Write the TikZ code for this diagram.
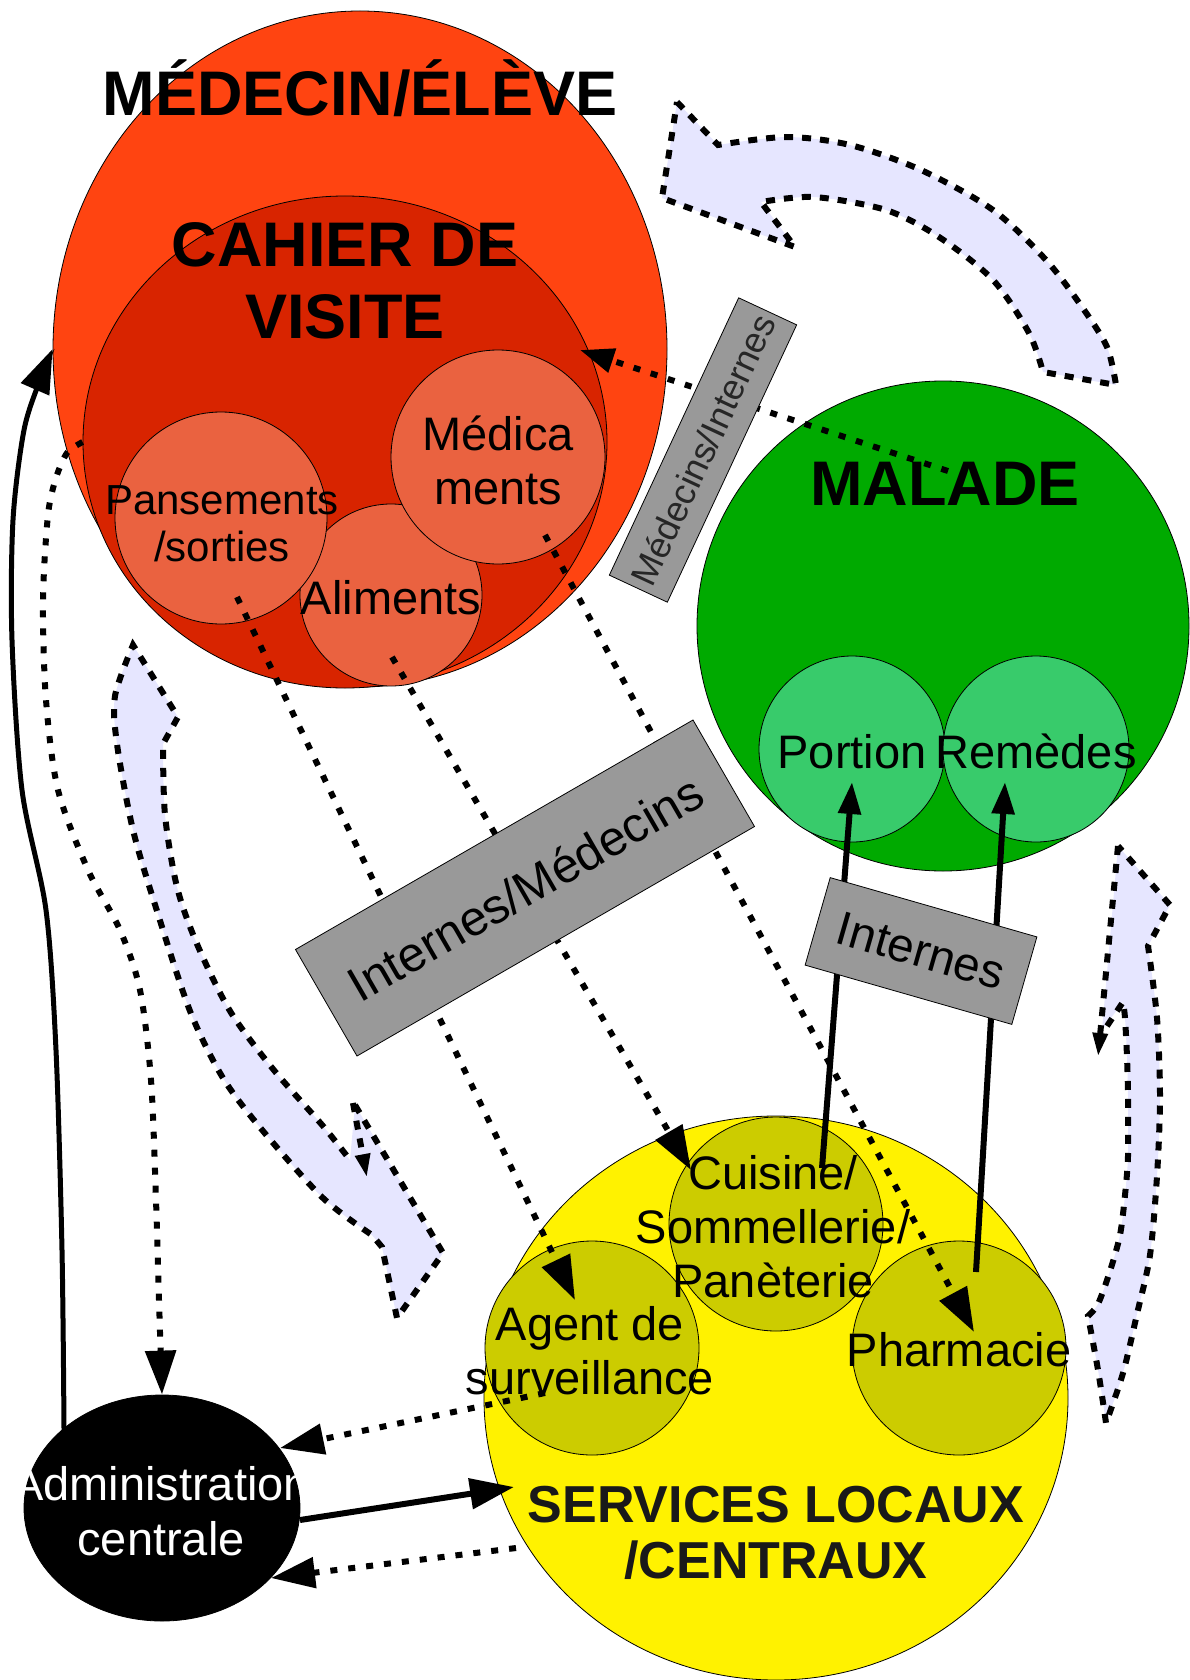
\documentclass[tikz,border=0pt]{standalone}
\usepackage{fontspec}
\setmainfont{Liberation Sans}
\usetikzlibrary{arrows.meta,shapes.geometric}
\definecolor{medred}{HTML}{FF4411}
\definecolor{cahier}{HTML}{D82400}
\definecolor{salmon}{HTML}{EA6240}
\definecolor{malgreen}{HTML}{00AA00}
\definecolor{lgreen}{HTML}{38CB6B}
\definecolor{olive}{HTML}{CCCC00}
\definecolor{lav}{HTML}{E6E6FF}
\definecolor{boxgray}{HTML}{999999}
\begin{document}
\begin{tikzpicture}[x=0.5pt,y=-0.5pt,
 blob/.style={ellipse, draw=black, line width=0.4pt, inner sep=0pt},
 lbl/.style={anchor=base, inner sep=0pt, font=\fontsize{23.5pt}{27pt}\selectfont},
 title/.style={anchor=base, inner sep=0pt, font=\bfseries\fontsize{31.5pt}{36pt}\selectfont},
 svc/.style={anchor=base, inner sep=0pt, font=\bfseries\fontsize{26pt}{30pt}\selectfont, text=black!90},
 dotline/.style={line width=3pt, dash pattern=on 3.5pt off 5.5pt},
 dotarrow/.style={dotline, -{Triangle[length=22pt,width=15pt]}},
 solidarrow/.style={line width=3pt, -{Triangle[length=22pt,width=15pt]}},
 bigoutline/.style={line width=3pt, dash pattern=on 4.5pt off 4.5pt},
 smalltip/.style={-{Triangle[length=12pt,width=7pt]}},
 graybox/.style={draw=black, line width=0.4pt, fill=boxgray, inner sep=0pt}
]
\path[use as bounding box] (0,0) rectangle (1189,1680);

% ---------- big lavender arrows ----------
% top right
\fill[lav] (677,102) -- (718,145) -- plot[smooth] coordinates {(718,145) (786,137) (850,145) (921,170) (993,210) (1046,260) (1082,307) (1107,347) (1116,385)} -- (1043,372) -- plot[smooth] coordinates {(1043,372) (1029,333) (993,280) (939,237) (886,210) (814,197) (761,202)} -- (795,247) -- (662,198) -- cycle;
\draw[bigoutline] (677,102) -- (718,145) -- plot[smooth] coordinates {(718,145) (786,137) (850,145) (921,170) (993,210) (1046,260) (1082,307) (1107,347) (1116,385)} -- (1043,372) -- plot[smooth] coordinates {(1043,372) (1029,333) (993,280) (939,237) (886,210) (814,197) (761,202)} -- (795,247) -- (662,198) -- cycle;

% left
\fill[lav] (133,645) -- (178,717) -- (163,744) -- plot[smooth] coordinates {(163,744) (165,815) (177,887) (197,944) (230,1011) (273,1069) (323,1126) (350,1160)} -- (355,1105) -- (443,1253) -- (397,1318) -- (382,1247) -- (372,1235) -- plot[smooth] coordinates {(372,1235) (323,1198) (263,1131) (223,1078) (190,1011) (157,911) (133,830) (117,744) (115,696) (133,645)} -- cycle;
\draw[bigoutline] (355,1105) -- (443,1253) -- (397,1318) -- (382,1247) -- (372,1235) -- plot[smooth] coordinates {(372,1235) (323,1198) (263,1131) (223,1078) (190,1011) (157,911) (133,830) (117,744) (115,696) (133,645)} -- (178,717) -- (163,744) -- plot[smooth] coordinates {(163,744) (165,815) (177,887) (197,944) (230,1011) (273,1069) (323,1126) (350,1160)};
\draw[bigoutline, smalltip] (353,1103) -- (367,1178);

% right
\fill[lav] (1118,846) -- (1170,905) -- (1148,946) -- plot[smooth] coordinates {(1148,946) (1157,1018) (1160,1097) (1157,1176) (1150,1255) (1137,1314) (1123,1373) (1106,1423)} -- plot[smooth] coordinates {(1106,1423) (1098,1370) (1088,1316)} -- plot[smooth] coordinates {(1088,1316) (1098,1304) (1110,1271) (1120,1235) (1125,1195) (1128,1156) (1128,1097) (1127,1057) (1125,1018) (1123,1002)} -- (1102,1030) -- cycle;
\draw[bigoutline] (1107,1026) -- (1123,1002) -- plot[smooth] coordinates {(1123,1002) (1125,1018) (1127,1057) (1128,1097) (1128,1156) (1125,1195) (1120,1235) (1110,1271) (1098,1304) (1088,1316)} -- plot[smooth] coordinates {(1088,1316) (1098,1370) (1106,1423)} -- plot[smooth] coordinates {(1106,1423) (1123,1373) (1137,1314) (1150,1255) (1157,1176) (1160,1097) (1157,1018) (1148,946)} -- (1170,905) -- (1118,846);
\draw[bigoutline, smalltip] (1118,846) -- (1098,1057);

% ---------- circles ----------
\node[blob, fill=medred, minimum width=307pt, minimum height=338pt] (medecin) at (360,349) {};
\node[blob, fill=cahier, minimum width=262pt, minimum height=246pt] (cahier) at (345,442) {};
\node[blob, fill=salmon, minimum width=91pt, minimum height=91pt] (alim) at (391,595) {};
\node[blob, fill=salmon, minimum width=106pt, minimum height=106pt] (pans) at (221,518) {};
\node[blob, fill=salmon, minimum width=107pt, minimum height=107pt] (medic) at (498,457) {};

\node[blob, fill=malgreen, minimum width=246pt, minimum height=245pt] (malade) at (943,626) {};
\node[blob, fill=lgreen, minimum width=93pt, minimum height=93pt] (portion) at (852,749) {};
\node[blob, fill=lgreen, minimum width=93pt, minimum height=93pt] (remedes) at (1036,749) {};

\node[blob, fill=yellow, minimum width=292pt, minimum height=282pt] (services) at (776,1398) {};
\node[blob, fill=olive, minimum width=107pt, minimum height=107pt] (agent) at (592,1348) {};
\node[blob, fill=olive, minimum width=107pt, minimum height=107pt] (pharma) at (959,1348) {};
\node[blob, fill=olive, minimum width=107pt, minimum height=107pt] (cuisine) at (776,1224) {};

\node[blob, fill=black, minimum width=138pt, minimum height=113pt] (admin) at (162,1508) {};

% ---------- texts ----------
\node[title] (tmed) at (360,116) {MÉDECIN/ÉLÈVE};
\node[title] (tcah1) at (345,266) {CAHIER DE};
\node[title] (tcah2) at (345,338) {VISITE};
\node[title] (tmal) at (945,505) {MALADE};
\node[lbl, font=\fontsize{21pt}{24pt}\selectfont] (tpan1) at (222,514) {Pansements};
\node[lbl, font=\fontsize{21pt}{24pt}\selectfont] (tpan2) at (222,561) {/sorties};
\node[lbl] (talim) at (391,614) {Aliments};
\node[lbl] (tmedi1) at (498,450) {Médica};
\node[lbl] (tmedi2) at (498,504) {ments};
\node[lbl] (tport) at (852,768) {Portion};
\node[lbl] (trem) at (1036,768) {Remèdes};
\node[lbl] (tcui1) at (773,1189) {Cuisine/};
\node[lbl] (tcui2) at (773,1243) {Sommellerie/};
\node[lbl] (tcui3) at (773,1297) {Panèterie};
\node[lbl] (tag1) at (590,1340) {Agent de};
\node[lbl] (tag2) at (590,1394) {surveillance};
\node[lbl] (tpha) at (959,1366) {Pharmacie};
\node[svc] (tsv1) at (776,1522) {SERVICES LOCAUX};
\node[svc] (tsv2) at (776,1578) {/CENTRAUX};
\node[lbl, text=white] (tad1) at (161,1500) {Administration};
\node[lbl, text=white] (tad2) at (161,1555) {centrale};

% ---------- connector end points ----------
\coordinate (pansout) at (237,597);
\coordinate (agentin) at (575,1300);
\coordinate (alimout) at (392,657);
\coordinate (cuisin) at (691,1170);
\coordinate (medout) at (545,535);
\coordinate (pharin) at (974,1332);
\coordinate (malout) at (948,471);
\coordinate (cahin) at (580,350);
\coordinate (agentout) at (545,1393);
\coordinate (adminA) at (280,1448);
\coordinate (servout) at (516,1548);
\coordinate (adminC) at (271,1578);
\coordinate (adminout) at (300,1520);
\coordinate (servin) at (514,1487);
\coordinate (cuisout) at (822,1168);
\coordinate (portin) at (852,782);
\coordinate (pharout) at (976,1272);
\coordinate (remin) at (1005,782);

% ---------- connectors ----------
\draw[dotarrow] (pansout) -- (agentin);
\draw[dotarrow] (alimout) -- (cuisin);
\draw[dotarrow] (medout) -- (pharin);
\draw[dotline, -{Triangle[length=17pt,width=12pt]}] (malout) -- (cahin);
\draw[dotarrow] (agentout) -- (adminA);
\draw[dotarrow] (servout) -- (adminC);
\draw[solidarrow] (adminout) -- (servin);
\draw[line width=3pt, -{Triangle[length=16pt,width=11pt]}] (cuisout) -- (portin);
\draw[line width=3pt, -{Triangle[length=16pt,width=11pt]}] (pharout) -- (remin);
\draw[line width=2.5pt, -{Triangle[length=22pt,width=15pt]}] (admin.north west) -- plot[smooth] coordinates {(64,1428) (62,1250) (56,1050) (46,910) (22,790) (12,640) (13,520) (24,430) (40,380) (medecin.west)};
\draw[dotline, -{Triangle[length=22pt,width=15pt]}] (cahier.west) -- plot[smooth] coordinates {(cahier.west) (67,453) (56,478) (48,515) (43,600) (46,700) (58,790) (88,870) (120,930) (140,990) (151,1080) (156,1200) (159,1300) (admin.north)};

% ---------- gray label boxes ----------
\node[graybox, minimum width=153pt, minimum height=32pt, rotate=65, text=black!85, font=\fontsize{18pt}{20pt}\selectfont] (box1) at (703,450) {Médecins/Internes};
\node[graybox, minimum width=229.5pt, minimum height=61.5pt, rotate=30, font=\fontsize{24.5pt}{28pt}\selectfont] (box2) at (525,888) {Internes/Médecins};
\node[graybox, minimum width=107.5pt, minimum height=45.5pt, rotate=-16, font=\fontsize{23.8pt}{28pt}\selectfont] (box3) at (921,951) {Internes};
\end{tikzpicture}
\end{document}
